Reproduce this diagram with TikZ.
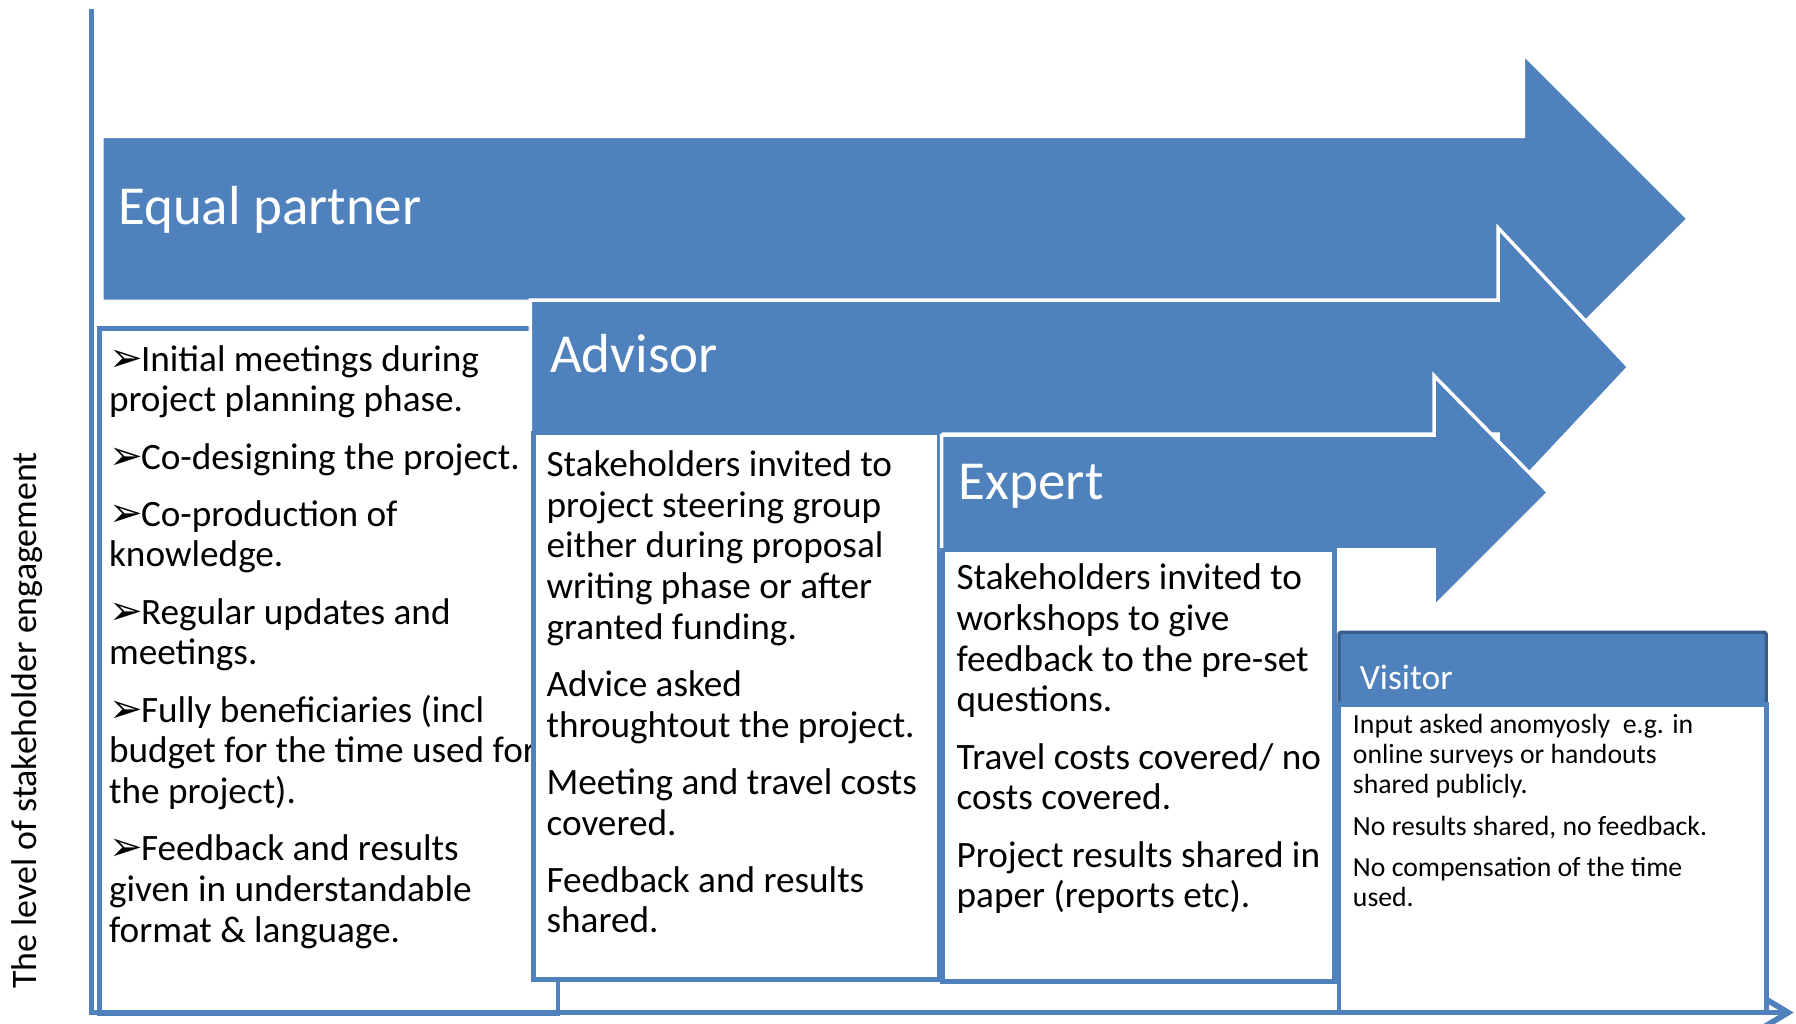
\documentclass[tikz,border=0pt]{standalone}
\usepackage{fontspec}
\setmainfont{Carlito}
\newfontfamily\dingfont{DejaVu Sans}
\usetikzlibrary{arrows.meta}
\definecolor{engblue}{RGB}{79,129,189}
\definecolor{engdark}{RGB}{56,93,138}
\newcommand\arrowbul{{\dingfont\scalebox{1.08}{➢}\kern-1.5pt}}
\begin{document}
\begin{tikzpicture}[x=1pt,y=-1pt,
  every node/.style={inner sep=0pt,align=left},
  bodytext/.style={font=\fontsize{32.5}{35.5}\selectfont,anchor=base west},
  smalltext/.style={font=\fontsize{24.2}{26.5}\selectfont,anchor=base west},
  heading/.style={font=\fontsize{48}{56}\selectfont,text=white,anchor=base west},
  levelbox/.style={draw=engblue,line width=4pt,fill=white},
  levelarrow/.style={fill=engblue,draw=white,line width=3pt,line join=miter}]
  \useasboundingbox (0,0) rectangle (1568,894);
  % equal partner box (text placed by its last baseline):
  \draw[levelbox] (87,287) rectangle (487,885);
  \node[bodytext] (equaltext) at (95,822.5) {\arrowbul Initial meetings during\\project planning phase.\\[14.5pt]
    \arrowbul Co-designing the project.\\[14.5pt]
    \arrowbul Co-production of\\knowledge.\\[14.5pt]
    \arrowbul Regular updates and\\meetings.\\[14.5pt]
    \arrowbul Fully beneficiaries (incl\\budget for the time used for\\the project).\\[14.5pt]
    \arrowbul Feedback and results\\given in understandable\\format \& language.};
  % equal partner arrow:
  \draw[levelarrow] (89,119) -- (1330,119) -- (1330,47) -- (1474,191) -- (1330,335) -- (1330,263) -- (89,263) -- cycle;
  \node[heading] (equalhead) at (103,196) {Equal partner};
  % advisor arrow and box:
  \draw[levelarrow] (463,262) -- (1308,262) -- (1308,199) -- (1422,320.5) -- (1308,442) -- (1308,379) -- (463,379) -- cycle;
  \node[heading] (advisorhead) at (480,325) {Advisor};
  \draw[levelbox] (466,378) rectangle (820,855);
  \node[bodytext] (advisortext) at (477,814.5) {Stakeholders invited to\\project steering group\\either during proposal\\writing phase or after\\granted funding.\\[14.5pt]
    Advice asked\\throughtout the project.\\[14.5pt]
    Meeting and travel costs\\covered.\\[14.5pt]
    Feedback and results\\shared.};
  % expert arrow and box:
  \draw[levelarrow] (822,380) -- (1252,380) -- (1252,328) -- (1352,430) -- (1252,530) -- (1252,480) -- (822,480) -- cycle;
  \node[heading] (experthead) at (837,436) {Expert};
  \draw[levelbox] (823,480) rectangle (1165,857);
  \node[bodytext] (experttext) at (835,792.5) {Stakeholders invited to\\workshops to give\\feedback to the pre-set\\questions.\\[14.5pt]
    Travel costs covered/ no\\costs covered.\\[14.5pt]
    Project results shared in\\paper (reports etc).};
  % visitor box:
  \draw[fill=engblue,draw=engdark,line width=3pt,rounded corners=2pt] (1169,552) rectangle (1542,617);
  \draw[levelbox] (1169,615) rectangle (1542,884);
  \node[font=\fontsize{31}{37}\selectfont,text=white,anchor=base west] (visitorhead) at (1187,602) {Visitor};
  \node[smalltext] (visitortext) at (1181,791.5) {Input asked anomyosly~ e.g. in\\online surveys or handouts\\shared publicly.\\[9.5pt]
    No results shared, no feedback.\\[9.5pt]
    No compensation of the time\\used.};
  % axes:
  \coordinate (ytop) at (80,8);
  \coordinate (xend) at (1566,884);
  \draw[engblue,line width=5pt,-{Straight Barb[length=20pt,width=24pt]}] (ytop) |- (xend);
  \node[rotate=90,font=\fontsize{31.3}{37}\selectfont] (ylabel) at (24,629) {The level of stakeholder engagement};
\end{tikzpicture}
\end{document}
